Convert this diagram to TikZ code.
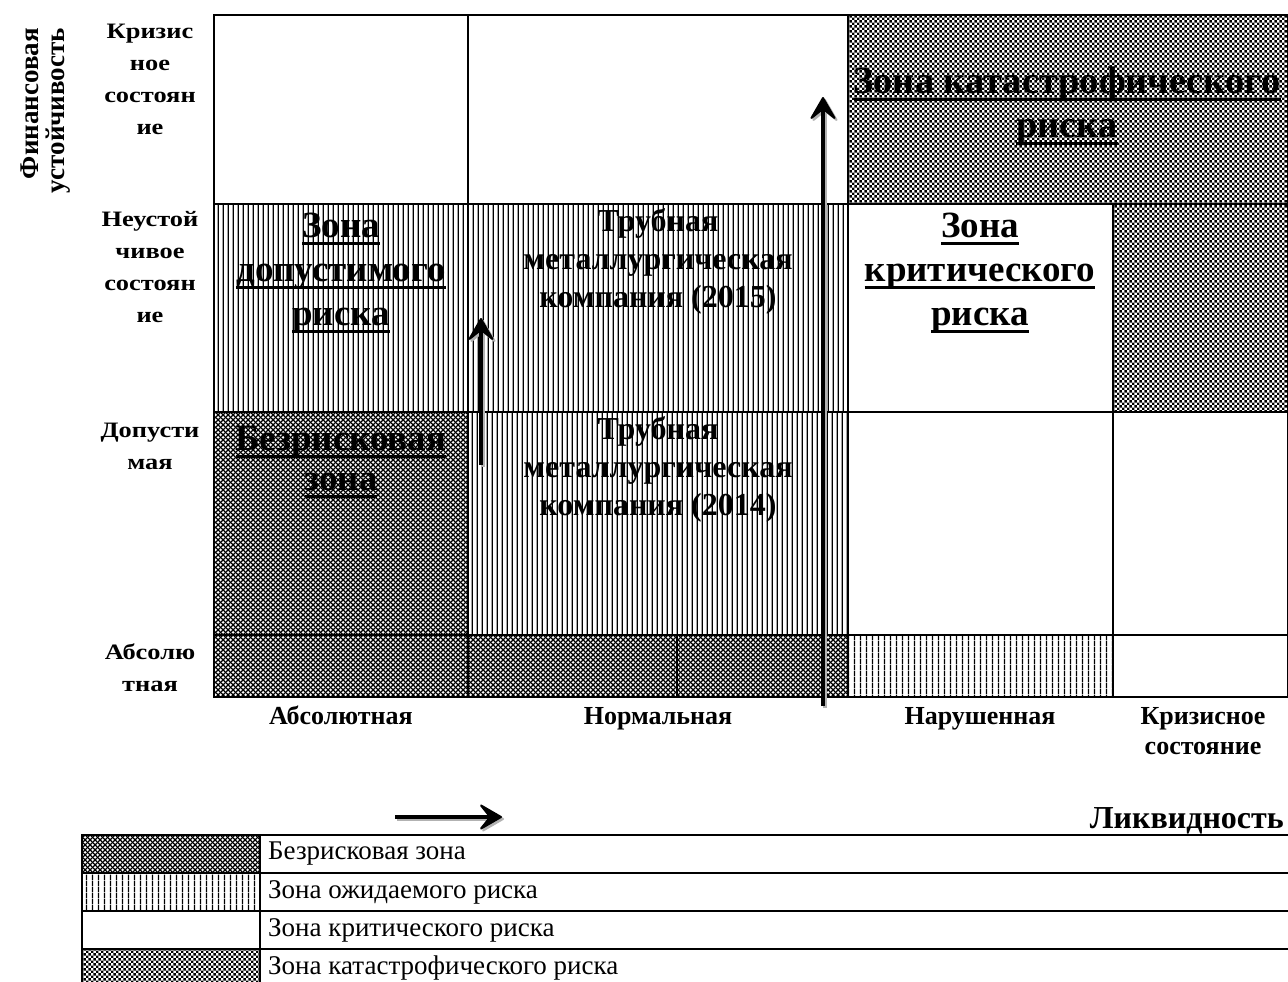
\documentclass[tikz,border=0pt]{standalone}
\usepackage{fontspec}
\setmainfont{Liberation Serif}
\newfontfamily\widefont[FakeStretch=1.2]{Liberation Serif}
\usetikzlibrary{patterns.meta,arrows.meta}
\newsavebox\zulbox
\newcommand\zul[1]{\sbox\zulbox{#1}\rlap{\rule[-8pt]{\wd\zulbox}{3pt}}\usebox\zulbox}
\tikzdeclarepattern{name=vstripes, tile size={(4.8pt,4.8pt)}, bounding box={(0pt,0pt) and (4.8pt,4.8pt)},
  code={\fill (1.8pt,-0.2pt) rectangle (3.1pt,5pt);}}
\tikzdeclarepattern{name=vstripeswide, tile size={(6pt,6pt)}, bounding box={(0pt,0pt) and (6pt,6pt)},
  code={\fill (2.3pt,-0.2pt) rectangle (3.7pt,6.2pt);}}
\tikzdeclarepattern{name=checker, tile size={(5.4pt,5.4pt)}, bounding box={(0pt,0pt) and (5.4pt,5.4pt)},
  code={\fill (0pt,0pt) rectangle (2.7pt,2.7pt); \fill (2.7pt,2.7pt) rectangle (5.4pt,5.4pt);}}
\tikzdeclarepattern{name=xhatch, tile size={(4.6pt,4.6pt)}, bounding box={(0pt,0pt) and (4.6pt,4.6pt)},
  code={\draw[line width=1.25pt] (-1pt,-1pt)--(5.6pt,5.6pt) (-1pt,5.6pt)--(5.6pt,-1pt);}}
\tikzset{
  cell/.style={draw=black, line width=2pt},
  zone/.style={font=\bfseries\fontsize{37}{44}\selectfont, align=center, inner sep=0pt},
  comp/.style={font=\bfseries\fontsize{32}{38}\selectfont, align=center, inner sep=0pt},
  rowlbl/.style={font=\widefont\bfseries\fontsize{22}{32}\selectfont, align=center, inner sep=0pt},
  collbl/.style={font=\bfseries\fontsize{26}{30}\selectfont, align=center, inner sep=0pt},
  leglbl/.style={font=\fontsize{27}{30}\selectfont, anchor=west, inner sep=0pt},
  bigarrow/.style={line width=4.5pt, -{Stealth[length=26pt 0,width=30pt 0,inset=12pt 0,line width=2pt 0,round]}},
  shadowarrow/.style={bigarrow, draw=black!30, fill=black!30}
}
\begin{document}
\begin{tikzpicture}[x=1pt,y=-1pt]
\useasboundingbox (0,0) rectangle (1288,982);
\fill[white] (0,0) rectangle (1288,982);
% ---- patterned fills
\fill[pattern=checker] (848,15) rectangle (1288,204);
\fill[pattern=vstripes] (214,204) rectangle (848,412);
\fill[pattern=checker] (1113,204) rectangle (1288,412);
\fill[pattern=xhatch] (214,412) rectangle (468,635);
\fill[pattern=vstripes] (468,412) rectangle (848,635);
\fill[pattern=xhatch] (214,635) rectangle (848,697);
\fill[pattern=vstripeswide] (848,635) rectangle (1113,697);
% ---- cell borders
\draw[cell] (214,15) rectangle (468,204);
\draw[cell] (468,15) rectangle (848,204);
\draw[cell] (848,15) rectangle (1288,204);
\draw[cell] (214,204) rectangle (468,412);
\draw[cell] (468,204) rectangle (848,412);
\draw[cell] (848,204) rectangle (1113,412);
\draw[cell] (1113,204) rectangle (1288,412);
\draw[cell] (214,412) rectangle (468,635);
\draw[cell] (468,412) rectangle (848,635);
\draw[cell] (848,412) rectangle (1113,635);
\draw[cell] (1113,412) rectangle (1288,635);
\draw[cell] (214,635) rectangle (468,697);
\draw[cell] (468,635) rectangle (677,697);
\draw[cell] (677,635) rectangle (848,697);
\draw[cell] (848,635) rectangle (1113,697);
\draw[cell] (1113,635) rectangle (1288,697);
% ---- zone labels
\node[zone] (zdop) at (341,273) {\zul{Зона}\\\zul{допустимого}\\\zul{риска}};
\node[comp] (c15) at (658,261) {Трубная\\металлургическая\\компания (2015)};
\node[zone] (zkrit) at (980,273) {\zul{Зона}\\\zul{критического}\\\zul{риска}};
\node[zone, font=\bfseries\fontsize{38.4}{44}\selectfont] (zkat) at (1067,106) {\zul{Зона катастрофического}\\\zul{риска}};
\node[zone, font=\bfseries\fontsize{37}{40}\selectfont] (zbez) at (341,462) {\zul{Безрисковая}\\\zul{зона}};
\node[comp] (c14) at (658,469) {Трубная\\металлургическая\\компания (2014)};
% ---- row labels
\node[rowlbl] (r1) at (150,79) {Кризис\\ное\\состоян\\ие};
\node[rowlbl] (r2) at (150,267) {Неустой\\чивое\\состоян\\ие};
\node[rowlbl] (r3) at (150,446) {Допусти\\мая};
\node[rowlbl] (r4) at (150,668) {Абсолю\\тная};
\node[font=\bfseries\fontsize{27}{26}\selectfont, align=right, inner sep=0pt, rotate=90, anchor=east] (fin) at (46,28) {Финансовая\\устойчивость};
% ---- column labels
\node[collbl, anchor=base] (k1) at (341,724) {Абсолютная};
\node[collbl, anchor=base] (k2) at (658,724) {Нормальная};
\node[collbl, anchor=base] (k3) at (980,724) {Нарушенная};
\node[collbl] (k4) at (1203,731) {Кризисное\\состояние};
\node[collbl, font=\bfseries\fontsize{32}{34}\selectfont, anchor=base east] (liq) at (1284,828) {Ликвидность};
% ---- arrows
\coordinate (a1s) at (823,706); \coordinate (a1e) at (823,97);
\coordinate (a2s) at (481,465); \coordinate (a2e) at (481,318);
\coordinate (a3s) at (395,817); \coordinate (a3e) at (502,817);
\draw[shadowarrow] ([shift={(2,2)}]a1s) -- ([shift={(2,2)}]a1e);
\draw[bigarrow] (a1s) -- (a1e);
\draw[shadowarrow] ([shift={(2,2)}]a2s) -- ([shift={(2,2)}]a2e);
\draw[bigarrow] (a2s) -- (a2e);
\draw[shadowarrow] ([shift={(2,2)}]a3s) -- ([shift={(2,2)}]a3e);
\draw[bigarrow] (a3s) -- (a3e);
% ---- legend
\fill[pattern=xhatch] (82,835) rectangle (260,873);
\fill[pattern=vstripeswide] (82,873) rectangle (260,911);
\fill[pattern=checker] (82,949) rectangle (260,990);
\draw[cell] (82,835) rectangle (260,873);
\draw[cell] (260,835) rectangle (1292,873);
\draw[cell] (82,873) rectangle (260,911);
\draw[cell] (260,873) rectangle (1292,911);
\draw[cell] (82,911) rectangle (260,949);
\draw[cell] (260,911) rectangle (1292,949);
\draw[cell] (82,949) rectangle (260,990);
\draw[cell] (260,949) rectangle (1292,990);
\node[leglbl] (l1) at (268,854) {Безрисковая зона};
\node[leglbl] (l2) at (268,892) {Зона ожидаемого риска};
\node[leglbl] (l3) at (268,930) {Зона критического риска};
\node[leglbl] (l4) at (268,968) {Зона катастрофического риска};
\end{tikzpicture}
\end{document}
